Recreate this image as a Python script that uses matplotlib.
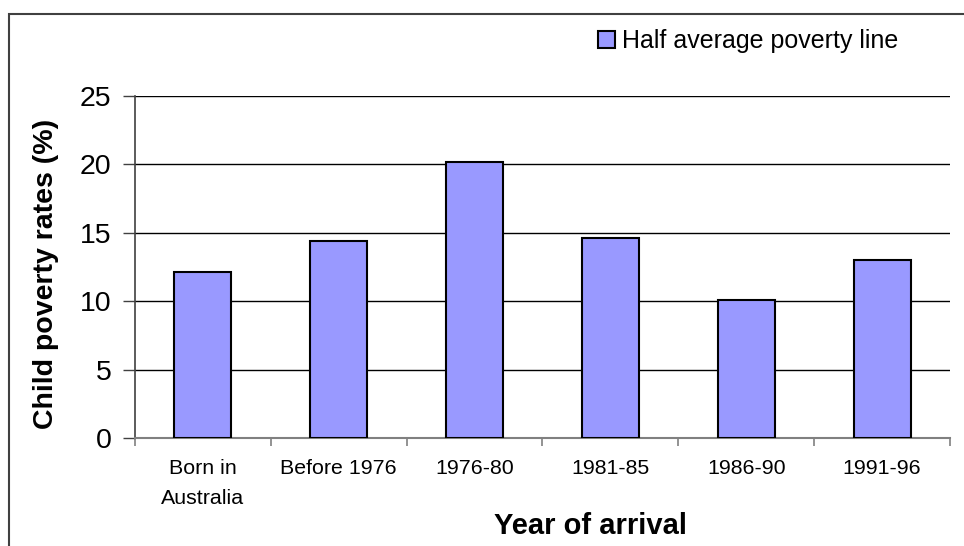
import matplotlib
matplotlib.use("Agg")
import matplotlib.pyplot as plt
from matplotlib.patches import Rectangle

categories = ["Born in\nAustralia", "Before 1976", "1976-80", "1981-85", "1986-90", "1991-96"]
poverty_rates = [12.1, 14.4, 20.2, 14.6, 10.1, 13.0]
y_ticks = [0, 5, 10, 15, 20, 25]
series_name = "Half average poverty line"

plt.rcParams["font.family"] = ["Liberation Sans", "DejaVu Sans"]

fig = plt.figure(figsize=(9.64, 5.46), dpi=100)
ax = fig.add_axes([135 / 964, 1 - 438 / 546, (950 - 135) / 964, (438 - 96) / 546])

x = list(range(len(categories)))
bars = ax.bar(x, poverty_rates, width=0.42, color="#9999FF", edgecolor="black",
              linewidth=1.5, label=series_name, zorder=3)

ax.set_xlim(-0.5, len(categories) - 0.5)
ax.set_ylim(0, 25)
ax.set_yticks(y_ticks)
ax.set_yticklabels([str(v) for v in y_ticks], fontsize=20.5)
ax.yaxis.grid(True, color="black", linewidth=1.0, zorder=0)
ax.set_axisbelow(True)

# category labels centred under bars, tick marks at category boundaries
ax.set_xticks(x)
ax.set_xticklabels(categories, fontsize=15.4, linespacing=1.72)
ax.tick_params(axis="x", which="major", length=0, pad=15)
ax.set_xticks([i - 0.5 for i in range(len(categories) + 1)], minor=True)
ax.tick_params(axis="x", which="minor", length=6, color="#808080", width=1.2)
ax.tick_params(axis="y", length=9, width=1.0, color="#404040", pad=8)

for side in ("top", "right"):
    ax.spines[side].set_visible(False)
ax.spines["left"].set_color("#404040")
ax.spines["bottom"].set_color("#808080")
ax.spines["left"].set_linewidth(1.2)
ax.spines["bottom"].set_linewidth(1.5)

ax.set_ylabel("Child poverty rates (%)", fontsize=20.5, fontweight="bold")
ax.yaxis.set_label_coords(-0.093, 0.48)
ax.set_xlabel("Year of arrival", fontsize=21, fontweight="bold")
ax.xaxis.set_label_coords(0.5595, -0.215)

fig.legend(handles=[bars], labels=[series_name], loc="center left",
           bbox_to_anchor=(598 / 964, 1 - 41 / 546), frameon=False, fontsize=18,
           handlelength=0.68, handleheight=0.68, handletextpad=0.3,
           borderaxespad=0, borderpad=0)

# outer chart frame
fig.patches.append(Rectangle((9 / 964, -0.05), 1.1, 1.05 - 14 / 546,
                             transform=fig.transFigure, fill=False,
                             edgecolor="#404040", linewidth=1.5))

fig.savefig("out.png", dpi=100)
